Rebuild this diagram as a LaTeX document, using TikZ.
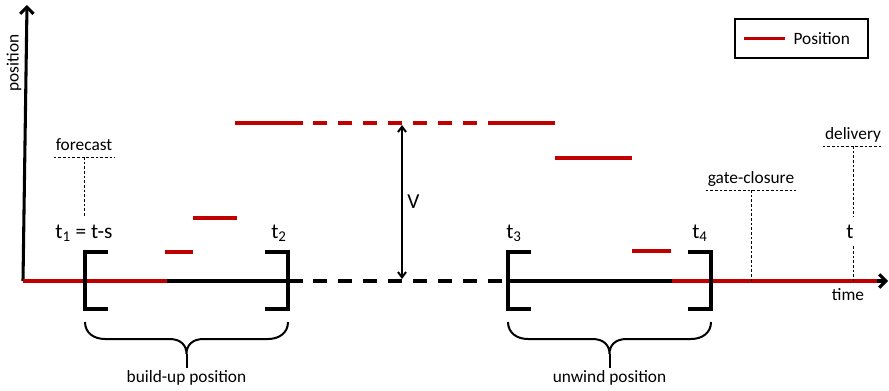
\documentclass[tikz,border=0pt]{standalone}
\usepackage{fontspec}
\setmainfont{Carlito}
\usepackage{tikz}
\usetikzlibrary{positioning,arrows.meta,calc}
\definecolor{posred}{RGB}{192,0,0}
\tikzstyle{axisline} = [line width=2.3pt,-{Straight Barb[length=5pt,width=10pt]}]

\begin{document}
\begin{tikzpicture}[
        x=0.75pt, y=-0.75pt,
        font=\fontsize{13}{15}\selectfont,
        posline/.style={posred, line width=2.5pt},
        gap/.style={dash pattern=on 10.5pt off 8.25pt},
        bracket/.style={line width=2.3pt},
        curly/.style={line width=1.5pt},
        guide/.style={line width=0.6pt, dash pattern=on 2pt off 1.5pt},
        tag/.style={inner xsep=1.5pt, inner ysep=5pt, text depth=0pt, anchor=south},
        tlabel/.style={font=\fontsize{16}{18}\selectfont, anchor=base, inner ysep=6pt}
    ]
    \useasboundingbox (0,0) rectangle (889,390);

    % axes
    \coordinate (o) at (23,281);
    \coordinate (tend) at (888,281);
    \draw[axisline] (o) -- (27,5);
    \node[rotate=90] (ylab) at (14,63) {position};

    \draw[axisline] (672,281) -- (tend);
    \draw[posline, line width=2.3pt] (o) -- (167,281);
    \draw[line width=2.3pt] (167,281) -- (303,281);
    \draw[line width=2.3pt, gap] (313,281) -- (508,281);
    \draw[line width=2.3pt] (508,281) -- (672,281);
    \draw[posline, line width=2.3pt] (672,281) -- (877,281);
    \node (time) at (848,295) {time};

    % position steps
    \draw[posline] (165,252) -- (193,252);
    \draw[posline] (193,218) -- (237,218);
    \draw[posline] (235,123) -- (303,123);
    \draw[posline, gap] (313,123) -- (492,123);
    \draw[posline] (492,123) -- (555,123);
    \draw[posline] (555,158) -- (632,158);
    \draw[posline] (632,251) -- (671,251);

    % brackets
    \foreach \x in {85,508}
        \draw[bracket] (\x+23,252) -- (\x,252) -- (\x,309) -- (\x+23,309);
    \foreach \x in {288,711}
        \draw[bracket] (\x-23,252) -- (\x,252) -- (\x,309) -- (\x-23,309);
    \coordinate (b1) at (85,252);

    % braces
    \foreach \a/\b/\txt [count=\i] in {85/288/build-up position, 508/711/unwind position} {
        \pgfmathsetmacro\m{(\a+\b)/2}
        \draw[curly] (\a,322) .. controls (\a,333) and (\a+9,339) .. (\a+20,339)
            -- (\m-17,339) .. controls (\m-6,339) and (\m,345) .. (\m,354)
            .. controls (\m,345) and (\m+6,339) .. (\m+17,339)
            -- (\b-20,339) .. controls (\b-9,339) and (\b,333) .. (\b,322);
        \draw[curly] (\m,354) -- (\m,368);
        \node[anchor=base] (brace\i) at (\m,382) {\txt};
    }

    % time labels
    \node[tlabel] (lt1) at (84,238) {t\textsubscript{1} = t-s};
    \node[tlabel] (lt2) at (279,238) {t\textsubscript{2}};
    \node[tlabel] (lt3) at (514,238) {t\textsubscript{3}};
    \node[tlabel] (lt4) at (700,238) {t\textsubscript{4}};
    \node[tlabel] (lt) at (850,238) {t};

    % markers
    \node[tag] (fc) at (84,157) {forecast};
    \draw[guide] (fc.south west) -- (fc.south east);
    \draw[guide] (fc.south) -- (fc.south |- lt1.north);
    \draw[guide] (fc.south |- lt1.south) -- (fc.south |- b1);

    \node[tag] (gc) at (751,190) {gate-closure};
    \draw[guide] (gc.south west) -- (gc.south east);
    \draw[guide] (gc.south) -- (gc.south |- o);

    \node[tag] (dl) at (853,146) {delivery};
    \draw[guide] (dl.south west) -- (dl.south east);
    \draw[guide] (dl.south) -- (dl.south |- lt.north);
    \draw[guide] (dl.south |- lt.south) -- (dl.south |- o);

    % volume
    \coordinate (vtop) at (402,125);
    \coordinate (vbot) at (402,279);
    \draw[line width=1.5pt, {Straight Barb[length=4pt,width=6pt]}-{Straight Barb[length=4pt,width=6pt]}]
        (vtop) -- node[right, font=\fontsize{16}{18}\selectfont] (vlab) {V} (vbot);

    % legend
    \node[draw, line width=1.2pt, minimum width=99.75pt, minimum height=29.25pt] (legend) at (801.5,38.5) {};
    \draw[posline] ([xshift=7.5pt]legend.west) -- ++(41,0)
        node[right, inner xsep=5pt, text=black] (legtxt) {Position};

    \end{tikzpicture}
\end{document}
